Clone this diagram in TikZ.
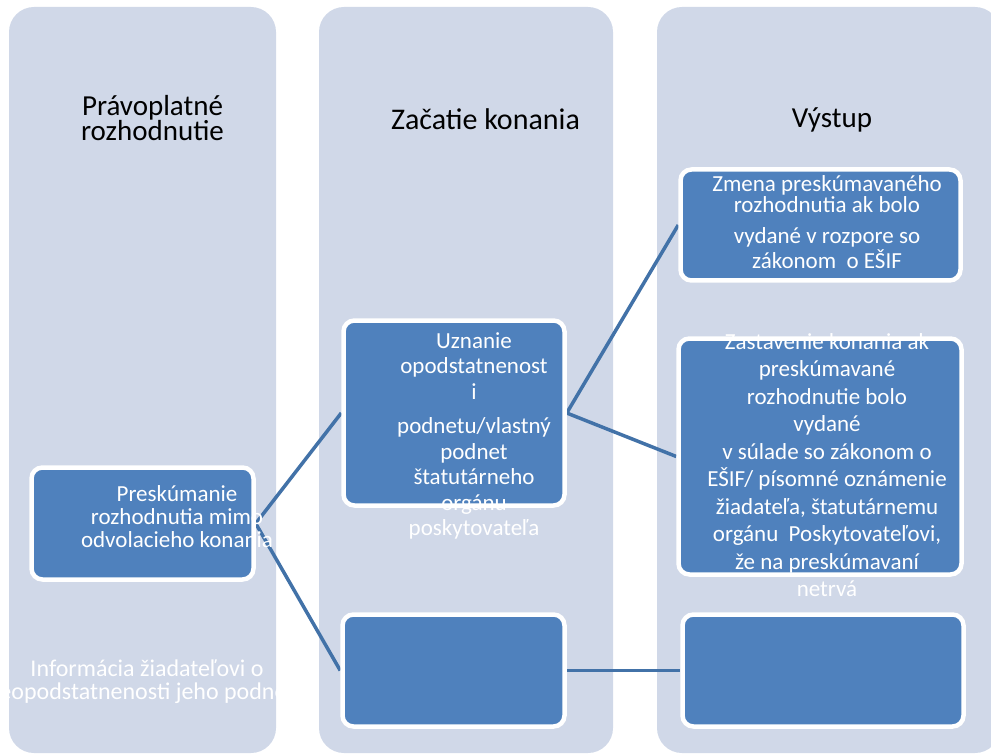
\documentclass[tikz,border=0pt]{standalone}
\usepackage{fontspec}
\setmainfont{Carlito}
\usetikzlibrary{backgrounds}

\definecolor{laneFill}{RGB}{208,216,232}
\definecolor{boxFill}{RGB}{79,129,189}
\definecolor{linkLine}{RGB}{66,114,168}

\tikzset{
	lane/.style={fill=laneFill, rounded corners=25pt, inner sep=0pt, minimum height=746pt},
	stagebox/.style={fill=boxFill, draw=white, line width=4.5pt, rounded corners=11pt, inner sep=0pt},
	lanetitle/.style={font=\fontsize{#1}{22.5}\selectfont, align=center, inner sep=0pt},
	boxtext/.style={font=\fontsize{23}{#1}\selectfont, text=white, align=center, inner sep=0pt},
	link/.style={draw=linkLine, line width=3.5pt}
}

\begin{document}
\begin{tikzpicture}[x=1pt, y=-1pt]

		\useasboundingbox (0,0) rectangle (991,754);

		% LANES
		\begin{pgfonlayer}{background}
			\foreach \name/\cx/\w in {laneA/142.5/267, laneB/466/294, laneC/828.5/343}{
				\node[lane, minimum width=\w pt] (\name) at (\cx,380) {};
			}
		\end{pgfonlayer}

		\node[lanetitle=29] (titleA) at (152.5,118) {Právoplatné\\rozhodnutie};
		\node[lanetitle=30, anchor=base] (titleB) at (485.5,130) {Začatie konania};
		\node[lanetitle=29, anchor=base] (titleC) at (832,128) {Výstup};

		% STAGES
		\node[stagebox, minimum width=222pt, minimum height=112pt] (review) at (142.5,523.5) {};
		\node[stagebox, minimum width=221pt, minimum height=185pt] (accept) at (454,413) {};
		\node[stagebox, minimum width=280pt, minimum height=111pt] (change) at (820.5,225) {};
		\node[stagebox, minimum width=283pt, minimum height=236pt] (stop) at (820,456.5) {};
		\node[stagebox, minimum width=222pt, minimum height=112pt] (reject) at (453.5,670.5) {};
		\node[stagebox, minimum width=281pt, minimum height=112pt] (inform) at (823,670.5) {};

		% Texts (they run over the boxes, as in the source)
		\node[boxtext=23] (reviewText) at (177,517)
			{Preskúmanie\\rozhodnutia mimo\\odvolacieho konania};
		\node[boxtext=25.5] (acceptText) at (474,436)
			{Uznanie\\opodstatnenost\\i\\[9pt]podnetu/vlastný\\podnet\\štatutárneho\\orgánu\\poskytovateľa};
		\node[boxtext=25.5] (changeText) at (827,222)
			{Zmena preskúmavaného\\[-4pt]rozhodnutia ak bolo\\[5pt]vydané v rozpore so\\zákonom~~o EŠIF};
		\node[boxtext=27.5] (stopText) at (827,465)
			{Zastavenie konania ak\\preskúmavané\\rozhodnutie bolo\\vydané\\v súlade so zákonom o\\EŠIF/ písomné oznámenie\\žiadateľa, štatutárnemu\\orgánu~~Poskytovateľovi,\\že na preskúmavaní\\netrvá};
		\node[boxtext=23, font=\fontsize{24}{23}\selectfont] (rejectText) at (147,682)
			{Informácia žiadateľovi o\\neopodstatnenosti jeho podnetu};

		% LINKS
		\begin{pgfonlayer}{background}
			\draw[link] (review.east) -- (accept.west);
			\draw[link] (review.east) -- (reject.west);
			\draw[link] (accept.east) -- (change.west);
			\draw[link] (accept.east) -- (stop.west);
			\draw[link] (reject.east) -- (inform.west);
		\end{pgfonlayer}

\end{tikzpicture}
\end{document}
